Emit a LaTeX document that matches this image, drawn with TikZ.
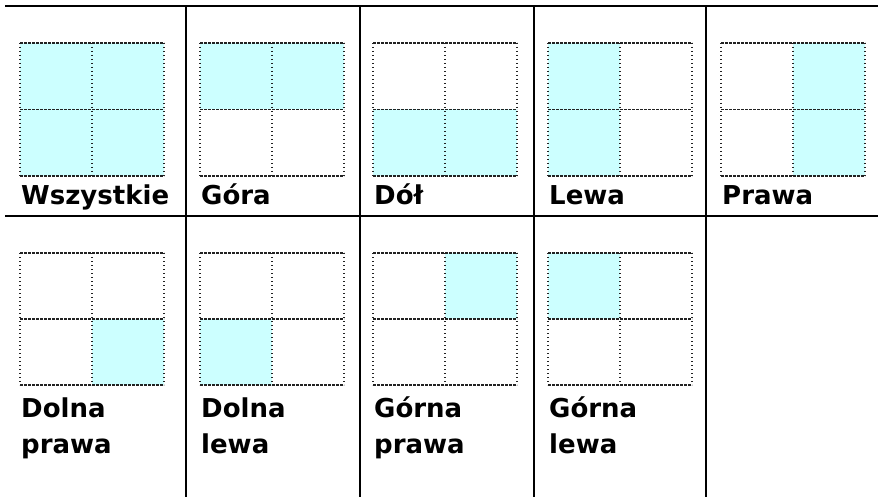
\documentclass[tikz,border=0pt]{standalone}
\usepackage{fontspec}
\newfontfamily\labfont{DejaVu Sans}
\definecolor{hlc}{HTML}{CCFFFF}
\definecolor{gln}{HTML}{222222}
\tikzset{
  tbl/.style={line width=2.3pt, black},
  hd/.style={line width=1.4pt, gln, dash pattern=on 3.2pt off 0.8pt},
  hm/.style={line width=1.8pt, gln, dash pattern=on 3.2pt off 0.8pt},
  vd/.style={line width=1.4pt, gln, dash pattern=on 1.3pt off 2.7pt},
  lab/.style={font=\labfont\bfseries\fontsize{26}{36}\selectfont, anchor=base west, inner sep=0pt, text width=170pt, align=left}
}
\newcommand\qgrid[4]{%
  \foreach \ci/\cj in {#4} {\fill[hlc] ({#1+\ci*72},{#2+\cj*#3/2}) rectangle ++(72,{#3/2});}
  \draw[vd] ({#1},{#2}) -- ++(0,{#3});
  \draw[vd] ({#1+72},{#2}) -- ++(0,{#3});
  \draw[vd] ({#1+144},{#2}) -- ++(0,{#3});
  \draw[hd] ({#1},{#2}) -- ++(144,0);
  \draw[hd] ({#1},{#2+#3}) -- ++(144,0);
  \draw[hm] ({#1},{#2+#3/2}) -- ++(144,0);
}
\begin{document}
\begin{tikzpicture}[x=1pt,y=-1pt]
\useasboundingbox (0,0) rectangle (878,497);
% grids row 1
\qgrid{20}{43}{133}{0/0,1/0,0/1,1/1}
\qgrid{200}{43}{133}{0/0,1/0}
\qgrid{373}{43}{133}{0/1,1/1}
\qgrid{548}{43}{133}{0/0,0/1}
\qgrid{721}{43}{133}{1/0,1/1}
% grids row 2
\qgrid{20}{253}{132}{1/1}
\qgrid{200}{253}{132}{0/1}
\qgrid{373}{253}{132}{1/0}
\qgrid{548}{253}{132}{0/0}
% table lines
\draw[tbl] (5,6) -- (878,6);
\draw[tbl] (5,216) -- (878,216);
\foreach \vx in {186,360,534,706} {\draw[tbl] (\vx,6) -- (\vx,497);}
% labels
\node[lab] (l1) at (21,205) {Wszystkie};
\node[lab] (l2) at (201,205) {Góra};
\node[lab] (l3) at (374,205) {Dół};
\node[lab] (l4) at (549,205) {Lewa};
\node[lab] (l5) at (722,205) {Prawa};
\node[lab] (l6) at (21,417) {Dolna\\prawa};
\node[lab] (l7) at (201,417) {Dolna\\lewa};
\node[lab] (l8) at (374,417) {Górna\\prawa};
\node[lab] (l9) at (549,417) {Górna\\lewa};
\end{tikzpicture}
\end{document}
